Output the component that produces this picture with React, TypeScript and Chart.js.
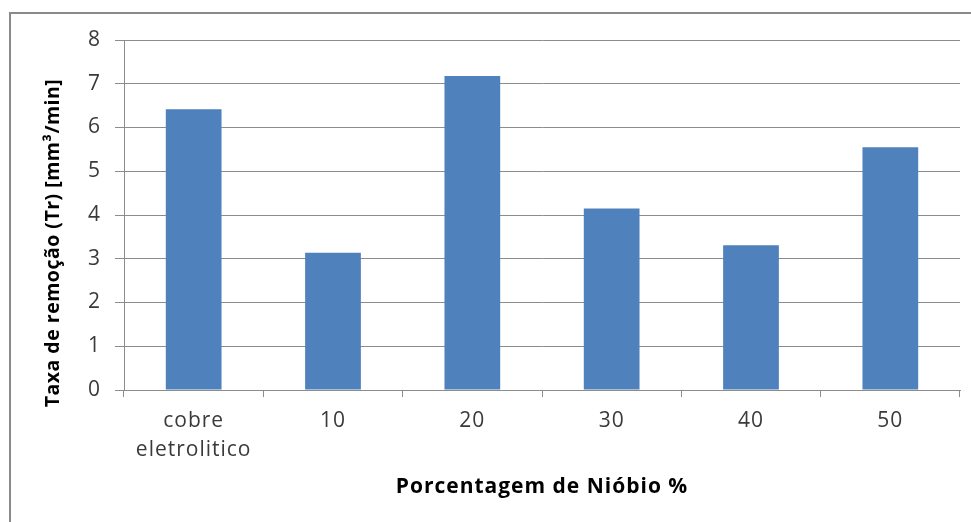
import React, { useEffect, useRef } from "react";
import { Chart, registerables } from "chart.js";

Chart.register(...registerables);

const categories: (string | string[])[] = [["cobre", "eletrolitico"], "10", "20", "30", "40", "50"];
const removalRate: number[] = [6.42, 3.14, 7.18, 4.15, 3.31, 5.55];
const yTicks: number[] = [0, 1, 2, 3, 4, 5, 6, 7, 8];
const xTitle = "Porcentagem de Nióbio %";
const yTitle = "Taxa de remoção (Tr) [mm³/min]";

const FONT = "'Open Sans', 'Liberation Sans', sans-serif";

const spacingPlugin = {
  id: "spacing",
  beforeLayout(chart: any) {
    chart.ctx.letterSpacing = "1px";
  },
  beforeDraw(chart: any) {
    chart.ctx.letterSpacing = "1px";
  },
  afterDraw(chart: any) {
    const ctx = chart.ctx;
    const area = chart.chartArea;
    ctx.save();
    ctx.letterSpacing = "0.5px";
    ctx.font = `bold 19.5px ${FONT}`;
    ctx.fillStyle = "#000000";
    ctx.textAlign = "center";
    ctx.textBaseline = "middle";
    ctx.translate(53, (area.top + area.bottom) / 2 + 28);
    ctx.rotate(-Math.PI / 2);
    ctx.fillText(yTitle, 0, 0);
    ctx.restore();
  },
};

export default function App() {
  const ref = useRef<HTMLCanvasElement>(null);
  useEffect(() => {
    if (!ref.current) return;
    const chart = new Chart(ref.current, {
      type: "bar",
      data: {
        labels: categories,
        datasets: [
          {
            data: removalRate,
            backgroundColor: "#4F81BD",
            borderWidth: 0,
            barPercentage: 0.4,
            categoryPercentage: 1,
          },
        ],
      },
      plugins: [spacingPlugin],
      options: {
        animation: false,
        responsive: false,
        devicePixelRatio: 1,
        layout: { padding: { top: 40, right: 11, left: 0, bottom: 0 } },
        plugins: { legend: { display: false }, tooltip: { enabled: false } },
        scales: {
          x: {
            afterFit: (s: any) => {
              s.height = 132;
            },
            grid: {
              offset: true,
              drawOnChartArea: false,
              drawTicks: true,
              tickLength: 7,
              color: "#8c8c8c",
            },
            border: { color: "#8c8c8c" },
            ticks: {
              color: "#3a3a3a",
              font: { family: FONT, size: 21, lineHeight: "29px" },
              padding: 10,
              maxRotation: 0,
              autoSkip: false,
            },
            title: {
              display: true,
              text: xTitle,
              color: "#000000",
              font: { family: FONT, size: 21, weight: "bold" },
              padding: { bottom: 22, top: 0 },
            },
          },
          y: {
            min: 0,
            max: 8,
            afterFit: (s: any) => {
              s.width = 124;
            },
            afterBuildTicks: (s: any) => {
              s.ticks = yTicks.map((v) => ({ value: v }));
            },
            grid: {
              color: "#8c8c8c",
              tickLength: 9,
              drawTicks: true,
            },
            border: { color: "#8c8c8c" },
            ticks: {
              color: "#3a3a3a",
              font: { family: FONT, size: 21 },
              padding: 14,
            },
          },
        },
      },
    });
    return () => chart.destroy();
  }, []);

  return (
    <div
      style={{
        position: "absolute",
        left: 0,
        top: 0,
        width: 971,
        height: 522,
        overflow: "hidden",
        background: "#ffffff",
      }}
    >
      <div
        style={{
          position: "absolute",
          left: 9,
          top: 12,
          width: 1100,
          height: 700,
          border: "2px solid #8a8a8a",
          boxSizing: "border-box",
        }}
      />
      <canvas ref={ref} width={971} height={522} style={{ position: "absolute", left: 0, top: 0 }} />
    </div>
  );
}
